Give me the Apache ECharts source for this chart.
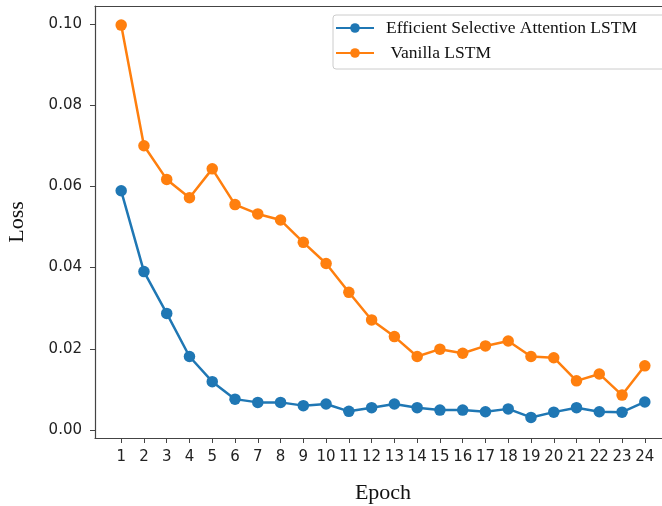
<!DOCTYPE html>
<html>
<head>
<meta charset="utf-8">
<script src="https://cdn.jsdelivr.net/npm/echarts@6/dist/echarts.min.js"></script>
<style>html,body{margin:0;padding:0;background:#fff}#c{width:662px;height:506px}</style>
</head>
<body>
<div id="c"></div>
<script>
const epochs = [1,2,3,4,5,6,7,8,9,10,11,12,13,14,15,16,17,18,19,20,21,22,23,24];
const esaLoss = [0.0589,0.0390,0.0287,0.0181,0.0119,0.0076,0.0068,0.0068,0.0060,0.0064,0.0046,0.0055,0.0064,0.0055,0.0049,0.0049,0.0045,0.0052,0.0031,0.0044,0.0055,0.0045,0.0044,0.0069];
const vanillaLoss = [0.0997,0.0700,0.0617,0.0572,0.0643,0.0555,0.0532,0.0517,0.0462,0.0410,0.0339,0.0271,0.0230,0.0181,0.0199,0.0189,0.0207,0.0219,0.0181,0.0178,0.0121,0.0138,0.0086,0.0158];
const yTicks = [0, 0.02, 0.04, 0.06, 0.08, 0.10];
const seriesNames = ['Efficient Selective Attention LSTM', ' Vanilla LSTM'];

const chart = echarts.init(document.getElementById('c'), null, {renderer: 'canvas'});
const tickFont = {fontFamily: 'DejaVu Sans', fontSize: 15, color: '#222'};
const spine = {show: true, onZero: false, lineStyle: {color: '#444', width: 1.2}};
chart.setOption({
  animation: false,
  backgroundColor: '#fff',
  grid: {left: 95, top: 6, width: 576, height: 432, show: false, containLabel: false, outerBoundsMode: 'none'},
  legend: {
    left: 333, top: 15, orient: 'vertical',
    padding: [4, 60, 7, 2],
    itemWidth: 38, itemHeight: 12, itemGap: 7,
    borderColor: '#ccc', borderWidth: 1, borderRadius: 3,
    textStyle: {fontFamily: 'Liberation Serif', fontSize: 17.5, color: '#111', padding: [0, 0, 0, 7]},
    data: seriesNames
  },
  xAxis: [{
    type: 'value', min: -0.15, max: 25.15,
    name: 'Epoch', nameLocation: 'middle', nameGap: 44,
    nameTextStyle: {fontFamily: 'Liberation Serif', fontSize: 22, color: '#111'},
    axisLine: spine,
    axisTick: {show: true, length: 5, customValues: epochs, lineStyle: {color: '#444'}},
    axisLabel: Object.assign({customValues: epochs, margin: 12}, tickFont),
    splitLine: {show: false}
  }, {
    type: 'value', position: 'top', min: -0.15, max: 25.15,
    axisLine: spine, axisTick: {show: false}, axisLabel: {show: false}, splitLine: {show: false}
  }],
  yAxis: {
    type: 'value', min: -0.00197, max: 0.1044,
    name: 'Loss', nameLocation: 'middle', nameGap: 67,
    nameTextStyle: {fontFamily: 'Liberation Serif', fontSize: 22, color: '#111'},
    axisLine: spine,
    axisTick: {show: true, length: 5, customValues: yTicks, lineStyle: {color: '#444'}},
    axisLabel: Object.assign({customValues: yTicks, margin: 13, formatter: v => v.toFixed(2)}, tickFont),
    splitLine: {show: false}
  },
  series: [
    {
      name: seriesNames[0], type: 'line', xAxisIndex: 0,
      data: epochs.map((e, i) => [e, esaLoss[i]]),
      symbol: 'circle', symbolSize: 11.5,
      itemStyle: {color: '#1f77b4'},
      lineStyle: {color: '#1f77b4', width: 2.5}
    },
    {
      name: seriesNames[1], type: 'line', xAxisIndex: 0,
      data: epochs.map((e, i) => [e, vanillaLoss[i]]),
      symbol: 'circle', symbolSize: 11.5,
      itemStyle: {color: '#ff7f0e'},
      lineStyle: {color: '#ff7f0e', width: 2.5}
    }
  ]
});
</script>
</body>
</html>
